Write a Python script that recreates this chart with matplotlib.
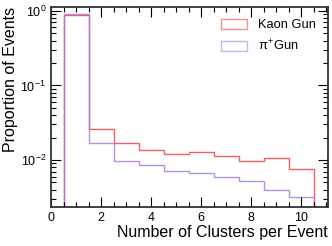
import matplotlib
matplotlib.use("Agg")
import matplotlib.pyplot as plt
import numpy as np
from matplotlib.patches import Patch
from matplotlib.ticker import LogLocator, MultipleLocator, NullFormatter

# bin edges: number of clusters 1..10
edges = np.arange(0.5, 11.5, 1.0)
kaon = [0.875, 0.0263, 0.0169, 0.0135, 0.0122, 0.0127, 0.0112, 0.0096, 0.0106, 0.0076]
pion = [0.92, 0.0170, 0.0098, 0.0085, 0.0072, 0.0067, 0.0060, 0.0052, 0.0039, 0.0032]

kaon_col = "#e8474b"
pion_col = "#a77fd9"

plt.rcParams["font.family"] = ["Liberation Sans", "DejaVu Sans"]
plt.rcParams["mathtext.fontset"] = "custom"
plt.rcParams["mathtext.rm"] = "Liberation Sans"
plt.rcParams["mathtext.it"] = "Liberation Sans"

fig = plt.figure(figsize=(3.32, 2.46), dpi=100)
ax = fig.add_axes([51 / 332, 39 / 246, 277 / 332, 200 / 246])

ax.stairs(kaon, edges, baseline=1e-6, color=kaon_col, lw=1.0, alpha=0.85)
ax.stairs(pion, edges, baseline=1e-6, color=pion_col, lw=1.0, alpha=0.85)

ax.set_yscale("log")
ax.set_xlim(0, 11.08)
ax.set_ylim(0.00234, 1.13)

ax.xaxis.set_major_locator(MultipleLocator(2))
ax.xaxis.set_minor_locator(MultipleLocator(0.5))
ax.yaxis.set_major_locator(LogLocator(base=10, numticks=10))
ax.yaxis.set_minor_locator(LogLocator(base=10, subs=np.arange(2, 10), numticks=20))
ax.yaxis.set_minor_formatter(NullFormatter())

ax.tick_params(which="both", direction="in", top=True, right=True, labelsize=9)
ax.tick_params(which="major", length=7, width=0.8)
ax.tick_params(which="minor", length=3.5, width=0.8)
for s in ax.spines.values():
    s.set_linewidth(1.3)
    s.set_color("#333333")

ax.set_xlabel("Number of Clusters per Event", fontsize=11.5, ha="right", x=1.0, labelpad=1)
ax.set_ylabel("Proportion of Events", fontsize=11.5, ha="right", y=1.0, labelpad=2)

handles = [Patch(facecolor="none", edgecolor=kaon_col, alpha=0.6, label="Kaon Gun"),
           Patch(facecolor="none", edgecolor=pion_col, alpha=0.6, label=r"$\pi^{+}$Gun")]
ax.legend(handles=handles, loc="upper right", frameon=False, fontsize=9.3,
          handlelength=2.0, handleheight=0.8, handletextpad=0.9,
          labelspacing=0.55, borderaxespad=0.5)

fig.savefig("out.png", dpi=100)
